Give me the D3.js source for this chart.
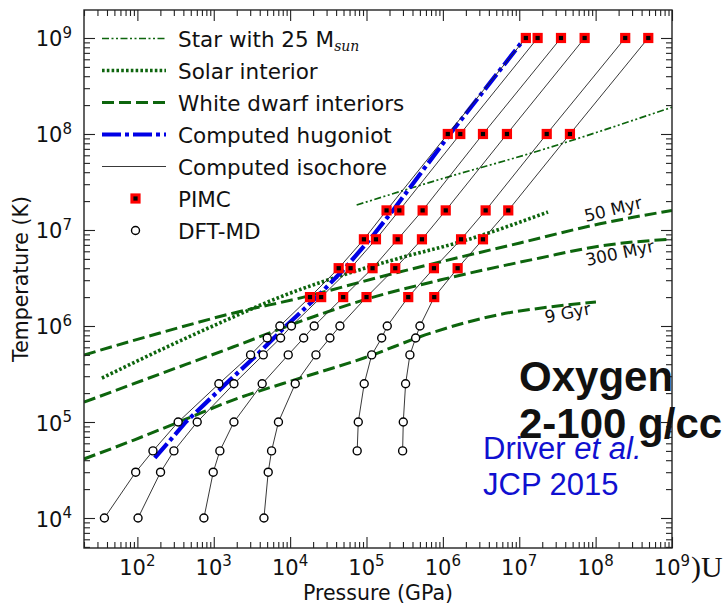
<!DOCTYPE html>
<html><head><meta charset="utf-8">
<script src="https://cdn.jsdelivr.net/npm/d3@7/dist/d3.min.js"></script>
<style>
body{margin:0;background:#fff}
svg{display:block;background:#fff}
text{font-family:"DejaVu Sans",sans-serif;fill:#111}
</style>
</head><body>
<svg id="chart" width="728" height="606"></svg>
<script>
// ---------------- DATA ----------------
// temperatures of the simulation rows (K)
const dftTemps  = [1e4, 3e4, 5e4, 1e5, 2.5e5, 5e5, 7.5e5, 1e6];
const pimcTemps = [2e6, 4e6, 8e6, 1.6e7, 1e8, 1e9];
// pressures (GPa) along each of the six isochores (null = no point)
const isochoreDftP = [
  [37, 95, 160, 342, 1167, 3034, 5012, 7345],
  [102, 201, 301, 607, 1837, 4446, 7499, 10400],
  [743, 984, 1202, 1837, 4305, 9441, 15030, 20650],
  [4540, 5164, 5715, 7031, 11670, 21780, 33190, 44870],
  [null, null, 75500, 78000, 93300, 117000, 158000, 187000],
  [null, null, 297000, 303000, 325000, 370000, 440000, 501000]
];
const isochorePimcP = [
  [1.82e4, 4.32e4, 9.25e4, 1.83e5, 1.16e6, 1.22e7],
  [2.55e4, 6.19e4, 1.33e5, 2.69e5, 1.69e6, 1.74e7],
  [4.95e4, 1.20e5, 2.56e5, 5.43e5, 3.35e6, 3.52e7],
  [1.00e5, 2.38e5, 5.32e5, 1.09e6, 6.90e6, 7.18e7],
  [3.52e5, 7.64e5, 1.73e6, 3.63e6, 2.29e7, 2.44e8],
  [7.71e5, 1.56e6, 3.35e6, 7.18e6, 4.61e7, 4.89e8]
];
// computed hugoniot
const hugoniotP = [169, 431, 1442, 3673, 6133, 8810, 2.24e4, 5.21e4, 1.11e5, 2.22e5, 1.24e6, 1.19e7];
const hugoniotT = [4.22e4, 1e5, 2.5e5, 5e5, 7.5e5, 1e6, 2e6, 4e6, 8e6, 1.6e7, 1e8, 1e9];
// star with 25 Msun
const starP = [7.43e4, 9.14e5, 1.41e7, 1e9];
const starT = [1.82e7, 3.37e7, 6.30e7, 1.90e8];
// solar interior
const solarP = [34.3, 243, 1486, 7345, 4.49e4, 2.74e5, 1.67e6, 2.38e7];
const solarT = [2.87e5, 6.04e5, 1.16e6, 2.0e6, 3.32e6, 5.11e6, 7.5e6, 1.54e7];
// white dwarf interiors
const wd50P  = [20, 197, 1782, 1.51e4, 1.5e5, 9.16e5, 1.02e7, 1.14e8, 1e9];
const wd50T  = [4.99e5, 8.45e5, 1.36e6, 2.0e6, 3.24e6, 4.64e6, 7.33e6, 1.16e7, 1.60e7];
const wd300P = [20, 197, 1782, 1.51e4, 9.25e4, 9.16e5, 1.87e7, 1.14e8, 1e9];
const wd300T = [1.61e5, 3.16e5, 6.04e5, 1.15e6, 1.87e6, 3.01e6, 5.11e6, 6.81e6, 8.05e6];
const wd9P   = [20, 90, 406, 1782, 1.51e4, 9.25e4, 6.97e5, 5.09e6, 2.52e7, 1.01e8];
const wd9T   = [4.12e4, 6.49e4, 1.05e5, 1.69e5, 2.94e5, 4.64e5, 8.45e5, 1.30e6, 1.58e6, 1.78e6];
// axis tick exponents
const xTickExps = [2, 3, 4, 5, 6, 7, 8, 9];
const yTickExps = [4, 5, 6, 7, 8, 9];
const legendLabels = ["Star with 25 M", "Solar interior", "White dwarf interiors",
  "Computed hugoniot", "Computed isochore", "PIMC", "DFT-MD"];

// ---------------- CHART ----------------
const svg = d3.select("#chart");
const L = 84, R = 672, T = 10, B = 548;
const x = d3.scaleLog().domain([20, 1e9]).range([L, R]);
const y = d3.scaleLog().domain([4870, 1.957e9]).range([B, T]);

svg.append("defs").append("clipPath").attr("id", "clip")
  .append("rect").attr("x", L).attr("y", T).attr("width", R - L).attr("height", B - T);
const plot = svg.append("g").attr("clip-path", "url(#clip)");

const zip = (P, Tt) => P.map((p, i) => [p, Tt[i]]);
const curve = d3.line().x(d => x(d[0])).y(d => y(d[1])).curve(d3.curveMonotoneX);
const lin = d3.line().x(d => x(d[0])).y(d => y(d[1]));

const green = "#0d650d";
const styles = {
  star:  {stroke: green, width: 1.7, dash: "7,2.5,2,2.5,2,2.5"},
  solar: {stroke: green, width: 3.6, dash: "2.6,2.2"},
  wd:    {stroke: green, width: 3, dash: "12,5"},
  hug:   {stroke: "#0000e6", width: 4.2, dash: "19,4,4,4"},
  iso:   {stroke: "#222", width: 0.9, dash: null}
};
function styled(sel, s) {
  sel.attr("fill", "none").attr("stroke", s.stroke).attr("stroke-width", s.width);
  if (s.dash) sel.attr("stroke-dasharray", s.dash);
  return sel;
}

styled(plot.append("path").attr("d", curve(zip(starP, starT))), styles.star);
styled(plot.append("path").attr("d", curve(zip(solarP, solarT))), styles.solar);
[[wd50P, wd50T], [wd300P, wd300T], [wd9P, wd9T]].forEach(([P, Tt]) =>
  styled(plot.append("path").attr("d", curve(zip(P, Tt))), styles.wd));
styled(plot.append("path").attr("d", lin(zip(hugoniotP, hugoniotT))), styles.hug);

// isochores
const isoPts = isochoreDftP.map((dp, k) => {
  const dft = dp.map((p, i) => p == null ? null : [p, dftTemps[i]]).filter(d => d);
  const pimc = isochorePimcP[k].map((p, i) => [p, pimcTemps[i]]);
  return {dft, pimc};
});
isoPts.forEach(s => styled(plot.append("path").attr("d", lin(s.dft.concat(s.pimc))), styles.iso));

function square(g, cx, cy) {
  g.append("rect").attr("x", cx - 3.6).attr("y", cy - 3.6).attr("width", 7.2).attr("height", 7.2)
    .attr("fill", "#000").attr("stroke", "#f00").attr("stroke-width", 3);
}
function circle(g, cx, cy) {
  g.append("circle").attr("cx", cx).attr("cy", cy).attr("r", 4)
    .attr("fill", "#fff").attr("stroke", "#000").attr("stroke-width", 1.4);
}
const markG = svg.append("g");
isoPts.forEach(s => {
  s.pimc.forEach(d => square(markG, x(d[0]), y(d[1])));
  s.dft.forEach(d => circle(markG, x(d[0]), y(d[1])));
});

// ---------------- AXES ----------------
const majorX = xTickExps.map(e => Math.pow(10, e));
const majorY = yTickExps.map(e => Math.pow(10, e));
const minorX = [], minorY = [];
for (let e = 1; e <= 8; e++) for (let m = 2; m <= 9; m++) {
  const v = m * Math.pow(10, e);
  if (v >= 20 && v < 1e9) minorX.push(v);
}
for (let e = 3; e <= 8; e++) for (let m = 2; m <= 9; m++) {
  const v = m * Math.pow(10, e);
  if (v > 4870 && v < 1.957e9) minorY.push(v);
}
const axColor = "#222";
function addAxis(gen, tx, ty) {
  const g = svg.append("g").attr("transform", `translate(${tx},${ty})`).call(gen);
  g.select(".domain").remove();
  g.selectAll("text").remove();
  g.selectAll("line").attr("stroke", axColor).attr("stroke-width", 1.1);
}
addAxis(d3.axisBottom(x).tickValues(majorX).tickSize(-11).tickFormat(""), 0, B);
addAxis(d3.axisBottom(x).tickValues(minorX).tickSize(-6).tickFormat(""), 0, B);
addAxis(d3.axisTop(x).tickValues(majorX).tickSize(-11).tickFormat(""), 0, T);
addAxis(d3.axisTop(x).tickValues(minorX).tickSize(-6).tickFormat(""), 0, T);
addAxis(d3.axisLeft(y).tickValues(majorY).tickSize(-11).tickFormat(""), L, 0);
addAxis(d3.axisLeft(y).tickValues(minorY).tickSize(-6).tickFormat(""), L, 0);
addAxis(d3.axisRight(y).tickValues(majorY).tickSize(-11).tickFormat(""), R, 0);
addAxis(d3.axisRight(y).tickValues(minorY).tickSize(-6).tickFormat(""), R, 0);

svg.append("rect").attr("x", L).attr("y", T).attr("width", R - L).attr("height", B - T)
  .attr("fill", "none").attr("stroke", axColor).attr("stroke-width", 1.4);

// tick labels
xTickExps.forEach(e => {
  const t = svg.append("text").attr("x", x(Math.pow(10, e))).attr("y", 575)
    .attr("text-anchor", "middle").style("font-size", "21px");
  t.append("tspan").text("10");
  t.append("tspan").attr("dy", -9).style("font-size", "15px").text(e);
});
yTickExps.forEach(e => {
  const t = svg.append("text").attr("x", 72).attr("y", y(Math.pow(10, e)) + 8.5)
    .attr("text-anchor", "end").style("font-size", "21px");
  t.append("tspan").text("10");
  t.append("tspan").attr("dy", -8.5).style("font-size", "15px").text(e);
});
svg.append("text").attr("x", (L + R) / 2).attr("y", 600).attr("text-anchor", "middle")
  .style("font-size", "20.5px").text("Pressure (GPa)");
svg.append("text").attr("transform", `translate(28,${(T + B) / 2}) rotate(-90)`)
  .attr("text-anchor", "middle").style("font-size", "20.5px").text("Temperature (K)");

// ---------------- LEGEND ----------------
const lg = svg.append("g");
const legStyles = [styles.star, styles.solar, styles.wd, styles.hug, styles.iso];
legendLabels.forEach((lab, i) => {
  const ly = 38.5 + 32 * i;
  if (i < 5) styled(lg.append("line").attr("x1", 102).attr("x2", 166).attr("y1", ly).attr("y2", ly), legStyles[i]);
  else if (i === 5) square(lg, 135.5, ly);
  else circle(lg, 135.5, ly);
  const t = lg.append("text").attr("x", 178).attr("y", ly + 8).style("font-size", "21.5px").text(lab);
  if (i === 0) t.append("tspan").attr("dy", 4)
    .style("font-family", "'DejaVu Serif',serif").style("font-style", "italic").style("font-size", "14px").text("sun");
});

// white dwarf labels
[["50 Myr", 586, 222, -14], ["300 Myr", 587, 266, -12], ["9 Gyr", 546, 323, -11]].forEach(([s, lx, ly, a]) =>
  svg.append("text").attr("transform", `translate(${lx},${ly}) rotate(${a})`)
    .style("font-size", "17px").text(s));

// annotations
const sans = "'Liberation Sans',Arial,sans-serif";
svg.append("text").attr("x", 519).attr("y", 391).style("font-family", sans)
  .style("font-weight", "bold").style("font-size", "42px").text("Oxygen");
svg.append("text").attr("x", 519).attr("y", 438).style("font-family", sans)
  .style("font-weight", "bold").style("font-size", "42px").text("2-100 g/cc");
const drv = svg.append("text").attr("x", 483).attr("y", 459)
  .style("font-family", sans).style("font-size", "31px").style("fill", "#1010d0");
drv.append("tspan").text("Driver ");
drv.append("tspan").style("font-style", "italic").text("et al.");
svg.append("text").attr("x", 483).attr("y", 495)
  .style("font-family", sans).style("font-size", "31px").style("fill", "#1010d0")
  .text("JCP 2015");
svg.append("text").attr("x", 691).attr("y", 577)
  .style("font-family", "'Liberation Serif','Times New Roman',serif").style("font-size", "30px").text(")U");
</script>
</body></html>
